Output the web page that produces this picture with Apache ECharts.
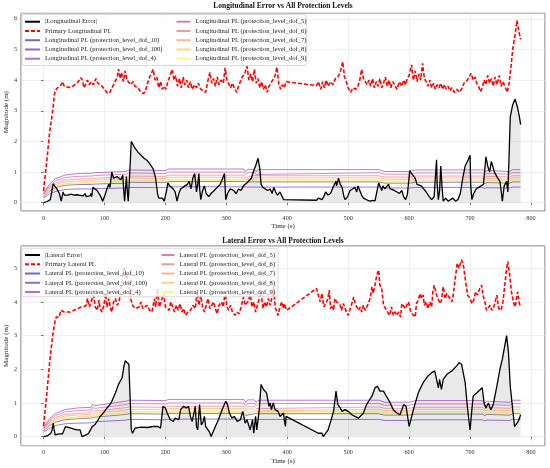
<!DOCTYPE html>
<html>
<head>
<meta charset="utf-8">
<script src="https://cdn.jsdelivr.net/npm/echarts@6/dist/echarts.min.js"></script>
<style>
  html, body { margin: 0; padding: 0; background: #fff; }
  #main { width: 550px; height: 468px; }
</style>
</head>
<body>
<div id="main"></div>
<script>
var FONT = 'Liberation Serif, Times New Roman, serif';

// ---- longitudinal data [time s, magnitude m] ----
var lonErr = [[0,0.0],[3,0.02],[6,0.04],[9,0.05],[11,0.1],[13,0.3],[15,0.55],[16,0.62],[18,0.55],[20,0.5],[22,0.45],[24,0.5],[26,0.3],[29,0.05],[30,0.05],[32,0.35],[34,0.25],[37,0.3],[40,0.25],[45,0.28],[50,0.25],[55,0.26],[60,0.24],[65,0.22],[68,0.3],[70,0.2],[73,0.25],[76,0.22],[78,0.3],[79,0.2],[81,0.5],[84,0.45],[88,0.4],[91,0.3],[94,0.2],[97,0.05],[100,0.2],[104,0.45],[107,0.6],[109,0.5],[112,1.0],[115,0.8],[118,0.82],[121,0.85],[124,0.8],[127,0.75],[130,0.9],[131,0.6],[133,0.05],[136,0.85],[137,0.5],[139,0.05],[141,0.8],[144,2.0],[150,1.78],[155,1.65],[160,1.55],[165,1.45],[170,1.38],[175,1.25],[180,1.1],[184,0.8],[187,0.3],[189,0.15],[192,0.1],[195,0.15],[198,0.05],[200,0.05],[202,0.4],[204,0.65],[207,0.55],[210,0.5],[213,0.45],[216,0.35],[219,0.05],[222,0.3],[225,0.45],[228,0.5],[232,0.55],[236,0.6],[239,0.7],[242,0.45],[245,0.8],[248,0.95],[250,0.6],[251,0.35],[253,0.6],[255,0.95],[256,0.5],[258,0.1],[261,0.4],[264,0.55],[267,0.3],[271,0.2],[275,0.3],[280,0.4],[285,0.5],[290,0.6],[294,0.8],[297,0.95],[299,0.1],[302,0.3],[306,0.45],[309,0.5],[312,0.4],[316,0.3],[320,0.45],[324,0.4],[328,0.55],[331,0.6],[334,0.65],[337,0.7],[341,0.8],[345,1.05],[348,1.2],[352,1.45],[355,1.1],[357,0.6],[360,0.5],[364,0.45],[368,0.4],[372,0.45],[375,0.3],[378,0.5],[381,0.35],[384,0.25],[388,0.35],[391,0.35],[394,0.1],[448,0.08],[451,0.15],[454,0.2],[457,0.1],[460,0.2],[463,0.35],[467,0.25],[471,0.3],[475,0.5],[480,0.7],[481,0.55],[484,0.8],[487,0.6],[490,0.5],[493,0.2],[495,0.1],[499,0.2],[503,0.4],[507,0.45],[511,0.5],[514,0.35],[516,0.55],[519,0.4],[522,0.25],[525,0.15],[528,0.1],[532,0.08],[536,0.05],[540,0.08],[544,0.06],[547,0.08],[550,0.65],[553,0.6],[555,0.4],[557,0.55],[560,0.45],[563,0.5],[566,0.6],[569,0.45],[572,0.5],[576,0.4],[580,0.35],[584,0.3],[588,0.4],[591,0.2],[594,0.1],[597,0.25],[601,1.05],[604,0.95],[607,0.9],[610,0.8],[613,0.6],[616,0.6],[620,0.55],[623,0.5],[628,0.35],[633,0.2],[637,0.1],[641,0.2],[645,1.4],[646,0.6],[648,0.1],[650,0.4],[652,1.2],[654,0.5],[656,0.05],[660,0.15],[664,0.05],[668,0.1],[672,0.15],[676,0.05],[680,0.1],[684,0.3],[688,0.8],[692,1.2],[697,1.4],[700,1.55],[701,0.6],[703,0.1],[706,0.3],[710,0.45],[713,0.5],[718,0.55],[722,0.6],[726,1.5],[729,1.2],[732,1.0],[735,1.35],[737,1.4],[740,1.0],[744,0.85],[749,0.7],[751,0.4],[753,0.05],[756,0.55],[760,0.7],[762,0.35],[764,1.5],[766,2.8],[770,3.2],[774,3.38],[778,3.1],[781,2.8],[783,2.55]];

var lonPl = [[0,0.38],[5,1.3],[10,2.3],[15,3.0],[18,3.55],[20,3.68],[23,3.75],[26,3.7],[29,3.85],[31,3.95],[34,3.8],[37,3.74],[42,3.76],[48,3.8],[54,3.88],[58,3.98],[61,4.08],[64,4.0],[66,3.75],[69,3.85],[72,4.0],[75,3.85],[78,3.95],[82,3.85],[86,4.05],[89,3.9],[92,3.95],[96,3.8],[100,3.7],[104,3.6],[108,3.57],[111,3.6],[115,3.85],[118,3.8],[121,4.1],[123,4.36],[126,4.05],[128,4.25],[131,3.95],[134,4.3],[137,4.0],[140,4.05],[143,3.85],[147,3.95],[150,3.8],[155,3.75],[159,3.62],[163,3.56],[167,3.62],[170,3.85],[174,4.1],[177,4.05],[180,4.35],[183,4.0],[186,4.1],[189,3.75],[192,3.95],[195,3.7],[198,3.8],[201,3.7],[204,3.95],[207,4.1],[211,4.35],[214,4.0],[217,4.15],[220,3.8],[223,4.05],[226,3.75],[229,4.1],[232,3.85],[235,4.0],[238,3.75],[241,3.95],[244,3.7],[248,3.85],[251,3.75],[254,3.9],[258,3.7],[262,3.65],[266,3.6],[270,4.0],[273,4.25],[276,3.9],[279,4.05],[282,3.8],[285,4.1],[288,3.85],[291,4.0],[295,3.9],[298,4.4],[301,4.0],[304,3.95],[307,3.75],[310,3.9],[314,3.7],[317,3.6],[320,3.8],[323,3.95],[326,4.1],[330,4.2],[334,4.45],[337,4.0],[340,4.2],[343,3.95],[346,4.35],[349,3.9],[352,4.05],[355,3.75],[358,3.95],[361,3.7],[364,3.85],[367,3.6],[370,3.8],[373,3.9],[376,4.0],[380,4.15],[383,4.42],[386,3.9],[389,3.7],[392,3.85],[395,3.75],[398,3.95],[448,3.82],[451,3.95],[455,3.7],[458,3.95],[461,3.75],[464,4.0],[467,3.8],[471,3.95],[475,3.85],[479,4.05],[483,4.1],[487,4.25],[491,4.6],[494,4.1],[497,3.95],[500,3.75],[504,3.6],[508,3.75],[512,3.7],[516,3.8],[519,4.0],[522,4.35],[525,4.05],[528,4.1],[531,3.85],[534,4.0],[537,3.8],[540,4.05],[543,3.75],[546,3.95],[549,3.8],[552,4.05],[555,3.75],[558,3.9],[561,4.1],[564,3.8],[567,4.0],[570,3.75],[573,3.95],[576,3.85],[580,3.7],[584,3.95],[588,3.8],[591,4.0],[594,3.85],[597,4.05],[600,4.15],[604,4.5],[607,4.0],[610,4.3],[613,3.95],[616,4.2],[619,4.0],[622,4.55],[625,4.05],[628,3.95],[631,3.8],[634,4.0],[637,3.75],[640,3.9],[643,3.7],[646,3.85],[649,3.75],[652,3.9],[655,3.7],[658,3.85],[661,3.7],[664,3.8],[667,3.65],[670,3.75],[674,3.6],[678,3.7],[683,3.6],[687,3.75],[690,3.9],[694,3.95],[698,4.1],[702,4.22],[705,4.0],[708,4.1],[711,3.9],[714,3.8],[717,3.62],[720,3.75],[723,4.0],[726,3.85],[729,4.15],[732,3.9],[735,4.05],[738,3.8],[741,4.1],[744,3.85],[748,4.15],[751,3.8],[754,3.95],[758,3.75],[761,3.6],[764,3.9],[767,4.4],[770,5.0],[774,5.5],[777,5.95],[780,5.6],[783,5.33]];

// ---- lateral data [time s, magnitude m] ----
var latErr = [[0,0.0],[3,0.01],[6,0.02],[9,0.05],[12,0.1],[14,0.2],[16,0.4],[17,0.25],[19,0.05],[22,0.1],[25,0.08],[28,0.05],[31,0.08],[33,0.03],[36,0.3],[39,0.25],[45,0.25],[50,0.22],[55,0.2],[60,0.2],[63,0.0],[66,0.05],[70,0.05],[74,0.1],[77,0.2],[80,0.3],[84,0.35],[88,0.45],[93,0.6],[98,0.7],[104,0.85],[109,0.95],[112,1.05],[115,1.1],[118,1.3],[121,1.45],[123,1.55],[126,1.65],[129,1.75],[132,2.1],[134,2.25],[137,2.2],[140,2.15],[142,1.2],[144,0.2],[146,0.1],[150,0.25],[160,0.28],[170,0.27],[180,0.3],[188,0.3],[192,0.25],[196,0.9],[200,0.85],[203,0.7],[208,0.5],[213,0.45],[216,0.55],[219,0.6],[222,0.5],[225,0.8],[230,0.9],[234,0.85],[238,0.9],[241,0.6],[244,0.45],[249,0.9],[251,0.3],[253,0.2],[256,0.95],[259,0.35],[262,0.45],[264,0.6],[266,0.3],[269,0.25],[272,0.15],[275,0.0],[282,0.3],[287,0.5],[293,0.8],[299,1.05],[302,0.95],[305,0.7],[309,0.55],[313,0.6],[318,0.45],[323,0.5],[327,0.75],[331,0.4],[334,0.5],[339,0.2],[343,0.5],[345,0.1],[348,0.6],[350,0.2],[354,0.8],[357,1.55],[361,1.4],[366,1.3],[368,1.1],[370,0.9],[372,1.0],[374,0.8],[377,1.0],[380,0.8],[385,0.75],[388,0.6],[391,0.55],[394,0.7],[395,0.5],[397,0.3],[398,0.6],[451,0.1],[454,0.05],[457,0.1],[459,0.0],[462,0.05],[467,0.2],[472,0.5],[476,0.75],[478,0.7],[480,1.35],[483,0.95],[487,0.85],[490,0.75],[495,0.8],[500,0.75],[506,0.65],[511,0.6],[517,0.55],[525,0.7],[530,0.95],[539,1.2],[544,1.45],[548,1.5],[552,1.35],[558,1.35],[561,1.25],[564,1.25],[569,1.0],[574,0.8],[580,0.7],[585,0.65],[591,0.95],[595,0.9],[600,0.3],[603,0.35],[607,0.8],[615,1.3],[623,1.6],[631,1.8],[637,1.9],[642,1.95],[648,1.45],[650,1.7],[653,1.4],[656,1.7],[662,1.85],[670,1.95],[678,2.1],[682,2.2],[686,2.15],[692,1.6],[695,1.0],[698,0.5],[700,0.2],[701,0.15],[703,0.8],[705,1.2],[711,1.3],[720,1.45],[723,1.0],[726,0.85],[730,1.0],[734,0.8],[738,0.95],[744,1.5],[749,2.0],[753,2.3],[757,2.7],[760,3.0],[763,2.5],[766,1.5],[770,0.8],[773,0.3],[775,0.25],[779,0.45],[783,0.65]];

var latPl = [[0,0.32],[5,1.2],[10,2.2],[15,3.0],[19,3.45],[21,3.55],[24,3.6],[26,3.55],[28,3.75],[31,3.8],[34,3.7],[37,3.72],[44,3.7],[50,3.75],[56,3.8],[62,3.85],[66,3.85],[70,3.9],[72,4.1],[75,3.85],[78,4.0],[82,4.2],[85,3.85],[88,3.75],[91,4.05],[93,3.8],[96,3.7],[99,3.9],[102,4.25],[104,3.85],[107,4.1],[110,3.8],[112,3.7],[115,4.0],[118,4.1],[121,3.9],[124,4.0],[126,4.3],[129,4.6],[131,4.95],[133,5.05],[135,4.7],[137,4.85],[140,4.5],[143,4.1],[146,3.9],[148,3.85],[151,3.8],[154,3.75],[157,3.85],[160,4.0],[163,3.8],[166,3.75],[170,3.9],[174,3.75],[178,3.7],[182,4.1],[184,3.85],[187,4.4],[190,3.85],[193,4.0],[197,4.25],[200,3.85],[203,3.9],[206,3.75],[209,4.0],[212,3.85],[215,3.7],[218,3.9],[221,3.75],[224,3.95],[227,3.7],[230,3.8],[233,3.6],[237,3.7],[241,3.75],[245,3.9],[249,3.8],[252,4.3],[255,3.9],[258,4.2],[261,3.85],[264,3.7],[267,3.9],[270,4.1],[273,3.8],[276,3.9],[279,4.0],[282,3.8],[285,3.65],[288,3.9],[292,4.0],[295,3.85],[298,4.3],[301,3.85],[304,3.75],[307,3.9],[310,3.7],[314,3.6],[317,3.7],[321,3.65],[325,3.9],[328,4.15],[331,3.9],[334,3.85],[337,4.05],[339,4.3],[342,3.85],[345,4.0],[348,3.7],[351,3.9],[354,3.85],[357,4.3],[360,3.8],[363,4.0],[366,3.85],[369,4.1],[372,3.9],[375,4.15],[378,4.45],[380,3.85],[383,3.7],[385,3.6],[388,3.85],[391,4.0],[394,3.8],[395,3.95],[399,3.75],[448,4.4],[451,4.2],[454,4.0],[457,4.25],[460,3.85],[463,3.9],[466,4.05],[469,4.35],[471,3.8],[474,3.9],[476,3.75],[478,4.1],[481,4.0],[484,4.05],[487,3.9],[489,3.75],[492,3.95],[495,3.8],[497,3.7],[500,3.6],[503,3.65],[506,3.95],[509,4.15],[511,4.0],[514,3.85],[517,3.75],[520,3.85],[522,3.7],[525,3.9],[528,3.75],[531,3.7],[533,3.95],[536,4.1],[539,4.45],[541,4.25],[544,4.5],[547,4.8],[550,4.95],[552,4.5],[555,4.4],[558,3.9],[563,3.75],[566,3.8],[568,3.6],[571,3.85],[574,3.6],[577,3.7],[580,3.6],[583,3.7],[586,3.55],[588,3.95],[591,4.0],[594,3.8],[596,3.9],[599,4.0],[602,3.75],[605,3.65],[610,3.55],[612,3.95],[615,4.05],[618,4.25],[620,4.1],[623,4.2],[625,3.9],[628,4.0],[631,3.8],[634,4.0],[637,3.85],[639,4.3],[641,4.5],[645,4.2],[648,4.15],[651,3.95],[653,4.05],[656,4.45],[659,4.1],[662,4.25],[664,4.2],[667,4.1],[670,4.0],[672,4.15],[675,4.6],[679,5.15],[682,5.0],[686,5.25],[689,5.1],[692,4.7],[696,4.2],[700,4.1],[703,3.95],[706,4.05],[709,4.3],[712,4.2],[716,4.4],[719,4.5],[722,4.15],[725,3.95],[727,3.75],[730,3.8],[733,3.9],[736,3.75],[739,3.85],[744,4.2],[747,3.8],[751,3.75],[754,4.0],[757,4.5],[760,5.0],[762,5.2],[765,4.8],[768,4.3],[771,4.0],[774,3.85],[778,4.3],[781,3.95],[783,3.85]];

// ---- protection levels per dof, sampled at plTime ----
var plTime = [0,10,20,35,55,78,80,85,135,140,200,205,329,332,335,346,349,352,550,560,600,610,720,724,728,765,770,783];

var lonPl10  = [.19,.38,.50,.57,.59,.60,.64,.61,.64,.67,.66,.69,.69,.63,.68,.68,.63,.68,.68,.64,.64,.67,.67,.63,.66,.64,.68,.68];
var lonPl100 = [.15,.29,.37,.43,.45,.45,.48,.46,.48,.50,.49,.52,.52,.48,.51,.51,.48,.51,.51,.48,.48,.50,.50,.47,.49,.48,.51,.51];
var lonPl4   = [.31,.61,.79,.90,.95,.96,1.02,.98,1.02,1.07,1.05,1.10,1.10,1.01,1.09,1.09,1.01,1.08,1.08,1.02,1.02,1.07,1.07,1.00,1.05,1.02,1.08,1.08];
var lonPl5   = [.28,.55,.72,.82,.86,.87,.93,.89,.93,.97,.95,1.00,1.00,.92,.99,.99,.92,.98,.98,.93,.93,.97,.97,.91,.95,.93,.98,.98];
var lonPl6   = [.25,.50,.65,.74,.77,.78,.84,.80,.84,.87,.86,.90,.90,.83,.89,.89,.83,.88,.88,.84,.84,.87,.87,.82,.86,.84,.88,.88];
var lonPl7   = [.23,.46,.60,.68,.71,.72,.77,.74,.77,.81,.79,.83,.83,.76,.82,.82,.76,.81,.81,.77,.77,.81,.81,.76,.79,.77,.81,.81];
var lonPl8   = [.21,.42,.55,.62,.65,.66,.71,.68,.71,.74,.72,.76,.76,.70,.75,.75,.70,.74,.74,.71,.71,.74,.74,.69,.72,.71,.74,.74];
var lonPl9   = [.20,.40,.52,.59,.62,.63,.67,.64,.67,.70,.68,.72,.72,.66,.71,.71,.66,.71,.71,.67,.67,.70,.70,.66,.68,.67,.71,.71];

var latPl10  = [.17,.33,.43,.50,.53,.55,.59,.58,.66,.68,.67,.69,.69,.63,.68,.68,.63,.68,.68,.64,.64,.67,.67,.63,.66,.64,.68,.68];
var latPl100 = [.13,.25,.33,.38,.40,.41,.45,.44,.49,.51,.50,.52,.52,.48,.51,.51,.48,.51,.51,.48,.48,.50,.50,.47,.49,.48,.51,.51];
var latPl4   = [.28,.53,.69,.80,.85,.87,.95,.92,1.05,1.08,1.07,1.10,1.10,1.01,1.09,1.09,1.01,1.08,1.08,1.02,1.02,1.07,1.07,1.00,1.05,1.02,1.08,1.08];
var latPl5   = [.25,.48,.63,.73,.77,.79,.86,.84,.95,.98,.97,1.00,1.00,.92,.99,.99,.92,.98,.98,.93,.93,.97,.97,.91,.95,.93,.98,.98];
var latPl6   = [.23,.43,.57,.66,.69,.71,.77,.76,.86,.88,.87,.90,.90,.83,.89,.89,.83,.88,.88,.84,.84,.87,.87,.82,.86,.84,.88,.88];
var latPl7   = [.21,.40,.52,.61,.64,.66,.71,.70,.79,.81,.81,.83,.83,.76,.82,.82,.76,.81,.81,.77,.77,.81,.81,.76,.79,.77,.81,.81];
var latPl8   = [.19,.36,.48,.55,.59,.60,.65,.64,.72,.74,.74,.76,.76,.70,.75,.75,.70,.74,.74,.71,.71,.74,.74,.69,.72,.71,.74,.74];
var latPl9   = [.18,.35,.45,.53,.55,.57,.62,.60,.68,.71,.70,.72,.72,.66,.71,.71,.66,.71,.71,.67,.67,.70,.70,.66,.68,.67,.71,.71];

var dofNames = ['10', '100', '4', '5', '6', '7', '8', '9'];
var dofColors = ['#0d0887', '#5302a3', '#8b0aa5', '#b83289', '#db5c68', '#f48849', '#febd2a', '#f0f921'];
var lonDof = [lonPl10, lonPl100, lonPl4, lonPl5, lonPl6, lonPl7, lonPl8, lonPl9];
var latDof = [latPl10, latPl100, latPl4, latPl5, latPl6, latPl7, latPl8, latPl9];

var chart = echarts.init(document.getElementById('main'));

function pairs(vals) {
  return plTime.map(function (t, i) { return [t, vals[i]]; });
}

function buildSeries(idx, prefix, errName, plName, err, pl, dof) {
  var out = [];
  dof.forEach(function (vals, i) {
    out.push({
      name: prefix + ' PL (protection_level_dof_' + dofNames[i] + ')',
      type: 'line', xAxisIndex: idx, yAxisIndex: idx,
      data: pairs(vals), symbol: 'none', z: 2,
      lineStyle: { color: dofColors[i], width: 0.9, opacity: 0.6 },
      itemStyle: { color: dofColors[i], opacity: 0.6 }
    });
  });
  out.push({
    name: plName, type: 'line', xAxisIndex: idx, yAxisIndex: idx,
    data: pl, symbol: 'none', z: 2,
    lineStyle: { color: '#ff0000', width: 1.6, type: [4, 2] },
    itemStyle: { color: '#ff0000' }
  });
  out.push({
    name: errName, type: 'line', xAxisIndex: idx, yAxisIndex: idx,
    data: err, symbol: 'none', z: 2,
    lineStyle: { color: '#000', width: 1.3 },
    itemStyle: { color: '#000' },
    areaStyle: { color: 'rgba(128,128,128,0.25)', origin: 0 }
  });
  return out;
}

function xAxis(idx) {
  return {
    type: 'value', gridIndex: idx, min: -37, max: 823, splitNumber: 8,
    name: 'Time (s)', nameLocation: 'middle', nameGap: 12, nameMoveOverlap: false,
    nameTextStyle: { fontFamily: FONT, fontSize: 7, color: '#222' },
    axisLine: { show: false },
    axisTick: { show: true, length: 2.5, lineStyle: { color: '#444', width: 0.7 } },
    axisLabel: { fontFamily: FONT, fontSize: 6.2, color: '#333', margin: 4,
      showMinLabel: false, showMaxLabel: false },
    splitLine: { show: true, lineStyle: { color: '#e6e6e6', width: 0.6 } }
  };
}

function yAxis(idx, max) {
  return {
    type: 'value', gridIndex: idx, min: -0.27, max: max, splitNumber: 6,
    name: 'Magnitude (m)', nameLocation: 'middle', nameGap: 11, nameMoveOverlap: false,
    nameTextStyle: { fontFamily: FONT, fontSize: 7, color: '#222' },
    axisLine: { show: false },
    axisTick: { show: true, length: 2.5, lineStyle: { color: '#444', width: 0.7 } },
    axisLabel: { fontFamily: FONT, fontSize: 6.2, color: '#333', margin: 4,
      showMinLabel: false, showMaxLabel: false },
    splitLine: { show: true, lineStyle: { color: '#e6e6e6', width: 0.6 } }
  };
}

function legend(names, left, top, iw) {
  return {
    data: names, orient: 'vertical', left: left, top: top, padding: 0,
    itemGap: 0, itemWidth: iw, itemHeight: 6, selectedMode: false, z: 5,
    itemStyle: { opacity: 0, borderWidth: 0 },
    textStyle: { fontFamily: FONT, fontSize: 6.6, lineHeight: 9.25, color: '#222' }
  };
}

function plNames(prefix, list) {
  return list.map(function (d) { return prefix + ' PL (protection_level_dof_' + d + ')'; });
}

var option = {
  animation: false,
  backgroundColor: '#fff',
  grid: [
    { left: 21, right: 5, top: 13.3, bottom: 257, show: true, borderColor: '#444', borderWidth: 0.8,
      outerBoundsMode: 'none', containLabel: false },
    { left: 21, right: 5, top: 246, bottom: 22.3, show: true, borderColor: '#444', borderWidth: 0.8,
      outerBoundsMode: 'none', containLabel: false }
  ],
  xAxis: [xAxis(0), xAxis(1)],
  yAxis: [yAxis(0, 6.18), yAxis(1, 5.66)],
  legend: [
    legend(['|Longitudinal Error|', 'Primary Longitudinal PL'].concat(plNames('Longitudinal', ['10', '100', '4'])), 24, 17.1, 15),
    legend(plNames('Longitudinal', ['5', '6', '7', '8', '9']), 175.5, 17.1, 14),
    legend(['|Lateral Error|', 'Primary Lateral PL'].concat(plNames('Lateral', ['10', '100', '4'])), 24, 250.4, 15),
    legend(plNames('Lateral', ['5', '6', '7', '8', '9']), 160.5, 250.4, 13)
  ],
  graphic: [
    { type: 'rect', z: 3, shape: { x: 22, y: 14.5, width: 284.5, height: 51, r: 2 },
      style: { fill: 'rgba(255,255,255,0.8)', stroke: '#cccccc', lineWidth: 0.7 } },
    { type: 'rect', z: 3, shape: { x: 22, y: 248.3, width: 256, height: 48.4, r: 2 },
      style: { fill: 'rgba(255,255,255,0.8)', stroke: '#cccccc', lineWidth: 0.7 } },
    { type: 'text', z: 5, x: 283, y: 6,
      style: { text: 'Longitudinal Error vs All Protection Levels', font: 'bold 7.5px ' + FONT,
        fill: '#111', textAlign: 'center', textVerticalAlign: 'middle' } },
    { type: 'text', z: 5, x: 283, y: 241,
      style: { text: 'Lateral Error vs All Protection Levels', font: 'bold 7.5px ' + FONT,
        fill: '#111', textAlign: 'center', textVerticalAlign: 'middle' } }
  ],
  series: buildSeries(0, 'Longitudinal', '|Longitudinal Error|', 'Primary Longitudinal PL', lonErr, lonPl, lonDof)
    .concat(buildSeries(1, 'Lateral', '|Lateral Error|', 'Primary Lateral PL', latErr, latPl, latDof))
};

chart.setOption(option);
</script>
</body>
</html>
